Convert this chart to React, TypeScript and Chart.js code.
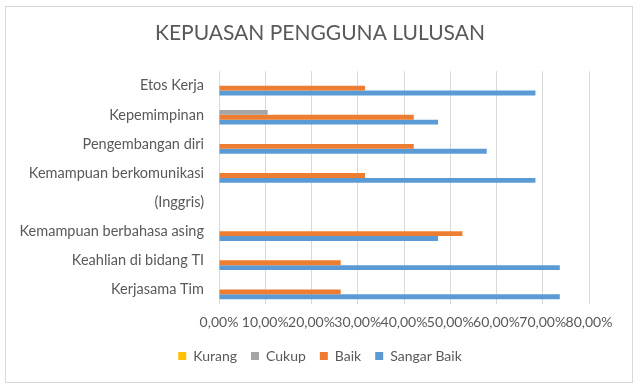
import React, { useEffect, useRef } from "react";
import { Chart, registerables } from "chart.js";

Chart.register(...registerables);

const categories = [
  "Etos Kerja",
  "Kepemimpinan",
  "Pengembangan diri",
  "Kemampuan berkomunikasi",
  "(Inggris)",
  "Kemampuan berbahasa asing",
  "Keahlian di bidang TI",
  "Kerjasama Tim",
];
const kurang = [0, 0, 0, 0, null, 0, 0, 0];
const cukup = [0, 10.53, 0, 0, null, 0, 0, 0];
const baik = [31.58, 42.11, 42.11, 31.58, null, 52.63, 26.32, 26.32];
const sangatBaik = [68.42, 47.37, 57.89, 68.42, null, 47.37, 73.68, 73.68];
const xTicks = [0, 10, 20, 30, 40, 50, 60, 70, 80];

const FONT = "Lato, 'Open Sans', sans-serif";
const TEXT = "#595959";

export default function App() {
  const ref = useRef<HTMLCanvasElement | null>(null);
  useEffect(() => {
    if (!ref.current) return;
    const chart = new Chart(ref.current, {
      type: "bar",
      data: {
        labels: categories,
        datasets: [
          { label: "Kurang", data: kurang, backgroundColor: "#FFC000", borderWidth: 0 },
          { label: "Cukup", data: cukup, backgroundColor: "#A5A5A5", borderWidth: 0 },
          { label: "Baik", data: baik, backgroundColor: "#ED7D31", borderWidth: 0 },
          { label: "Sangar Baik", data: sangatBaik, backgroundColor: "#5B9BD5", borderWidth: 0 },
        ] as any,
      },
      options: {
        indexAxis: "y",
        animation: false,
        responsive: false,
        maintainAspectRatio: false,
        layout: { padding: { left: 0, right: 0, top: 0, bottom: 17 } },
        datasets: { bar: { barPercentage: 1, categoryPercentage: 0.67 } },
        plugins: {
          tooltip: { enabled: false },
          title: {
            display: true,
            text: "KEPUASAN PENGGUNA LULUSAN",
            color: TEXT,
            font: { family: FONT, size: 21, weight: "normal" as any, lineHeight: 1.2 },
            padding: { top: 21, bottom: 25 },
          },
          legend: {
            position: "bottom",
            labels: {
              color: TEXT,
              font: { family: FONT, size: 14 },
              boxWidth: 8,
              boxHeight: 8,
              padding: 14,
            },
          },
        },
        scales: {
          x: {
            type: "linear",
            min: 0,
            max: 80,
            afterBuildTicks: (s: any) => {
              s.ticks = xTicks.map((v) => ({ value: v }));
            },
            grid: { color: "#D9D9D9", drawTicks: false },
            border: { display: false },
            ticks: {
              color: TEXT,
              font: { family: FONT, size: 14 },
              padding: 10,
              autoSkip: false,
              maxRotation: 0,
              callback: (v: any) => Number(v).toFixed(2).replace(".", ",") + "%",
            },
            afterFit: (s: any) => {
              s.height = 31;
            },
          },
          y: {
            type: "category",
            grid: { display: false, drawTicks: false },
            border: { display: false },
            ticks: {
              color: TEXT,
              font: { family: FONT, size: 14.5 },
              padding: 15,
              autoSkip: false,
            },
            afterFit: (s: any) => {
              s.width = 219;
            },
          },
          pad: {
            type: "linear",
            axis: "y",
            position: "right",
            display: true,
            grid: { display: false, drawTicks: false },
            border: { display: false },
            ticks: { display: false },
            afterFit: (s: any) => {
              s.width = 51;
            },
          } as any,
        },
      } as any,
    });
    return () => chart.destroy();
  }, []);

  return (
    <div style={{ position: "absolute", left: 0, top: 0, width: 640, height: 390, background: "#fff" }}>
      <div
        style={{
          position: "absolute",
          left: 5,
          top: 6,
          width: 626,
          height: 375,
          border: "1px solid #D9D9D9",
        }}
      />
      <canvas ref={ref} width={640} height={390} style={{ position: "absolute", left: 0, top: 0 }} />
    </div>
  );
}
